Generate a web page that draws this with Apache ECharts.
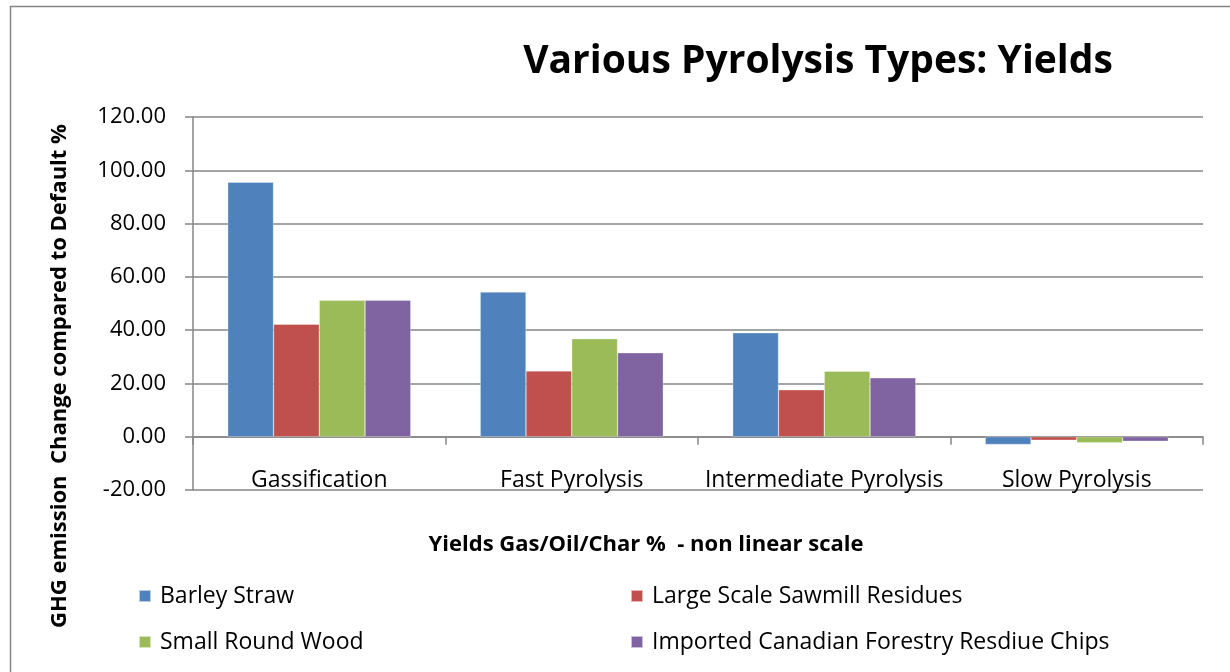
<!DOCTYPE html>
<html>
<head>
<meta charset="utf-8">
<script src="https://cdn.jsdelivr.net/npm/echarts@6/dist/echarts.min.js"></script>
<style>html,body{margin:0;padding:0;background:#fff}#c{width:1230px;height:672px}</style>
</head>
<body>
<div id="c"></div>
<script>
const categories = ['Gassification', 'Fast Pyrolysis', 'Intermediate Pyrolysis', 'Slow Pyrolysis'];
const seriesNames = ['Barley Straw', 'Large Scale Sawmill Residues', 'Small Round Wood', 'Imported Canadian Forestry Resdiue Chips'];
const barleyStraw = [95.5, 54.3, 39.0, -2.9];
const sawmillResidues = [42.2, 24.7, 17.6, -1.3];
const smallRoundWood = [51.2, 36.8, 24.6, -2.3];
const canadianChips = [51.2, 31.5, 22.1, -1.7];
const colors = ['#4F81BD', '#C0504D', '#9BBB59', '#8064A2'];
const FONT = 'Open Sans';

const chart = echarts.init(document.getElementById('c'));
const values = [barleyStraw, sawmillResidues, smallRoundWood, canadianChips];
chart.setOption({
  animation: false,
  textStyle: { fontFamily: FONT },
  title: {
    text: 'Various Pyrolysis Types: Yields',
    left: 813, top: 37, textAlign: 'center',
    textStyle: { fontFamily: FONT, fontWeight: 'bold', fontSize: 39, color: '#000' }
  },
  graphic: [
    { type: 'rect', left: 8, top: 4, shape: { width: 1300, height: 800 }, style: { fill: 'none', stroke: '#868686', lineWidth: 1.5 }, silent: true },
    { type: 'text', x: 60, y: 376, rotation: Math.PI / 2, style: { text: 'GHG emission  Change compared to Default %', font: 'bold 22px "Open Sans"', fill: '#000', align: 'center', verticalAlign: 'middle' } },
    { type: 'text', x: 646, y: 545, style: { text: 'Yields Gas/Oil/Char %  - non linear scale', font: 'bold 22px "Open Sans"', fill: '#000', align: 'center', verticalAlign: 'middle' } }
  ],
  legend: [
    { left: 133, top: 579, orient: 'vertical', itemGap: 22, itemWidth: 12, itemHeight: 12, icon: 'rect',
      data: [seriesNames[0], seriesNames[2]], textStyle: { fontFamily: FONT, fontSize: 23, lineHeight: 24, color: '#000', padding: [0, 0, 0, 4] } },
    { left: 625, top: 579, orient: 'vertical', itemGap: 22, itemWidth: 12, itemHeight: 12, icon: 'rect',
      data: [seriesNames[1], seriesNames[3]], textStyle: { fontFamily: FONT, fontSize: 23, lineHeight: 24, color: '#000', padding: [0, 0, 0, 4] } }
  ],
  grid: { left: 193, right: 27, top: 117, bottom: 182, containLabel: false },
  xAxis: {
    type: 'category', data: categories,
    axisLine: { onZero: true, lineStyle: { color: '#868686', width: 1.5 } },
    axisTick: { show: true, length: 8, interval: 0, lineStyle: { color: '#868686', width: 1.5 } },
    axisLabel: { margin: -21, fontSize: 23, color: '#000', fontFamily: FONT, interval: 0 }
  },
  yAxis: {
    type: 'value', min: -20, max: 120, interval: 20,
    axisLine: { show: true, lineStyle: { color: '#868686', width: 1.5 } },
    axisTick: { show: true, length: 8, lineStyle: { color: '#868686', width: 1.5 } },
    splitLine: { show: true, lineStyle: { color: '#868686', width: 1.5 } },
    axisLabel: { margin: 27, fontSize: 22, color: '#000', fontFamily: FONT, formatter: v => v.toFixed(2) }
  },
  series: seriesNames.map((n, i) => ({
    name: n, type: 'bar', data: values[i],
    barGap: '0%', barCategoryGap: '27.5%',
    itemStyle: { color: colors[i], borderColor: 'rgba(255,255,255,0.6)', borderWidth: 0.5 }
  }))
});
</script>
</body>
</html>
